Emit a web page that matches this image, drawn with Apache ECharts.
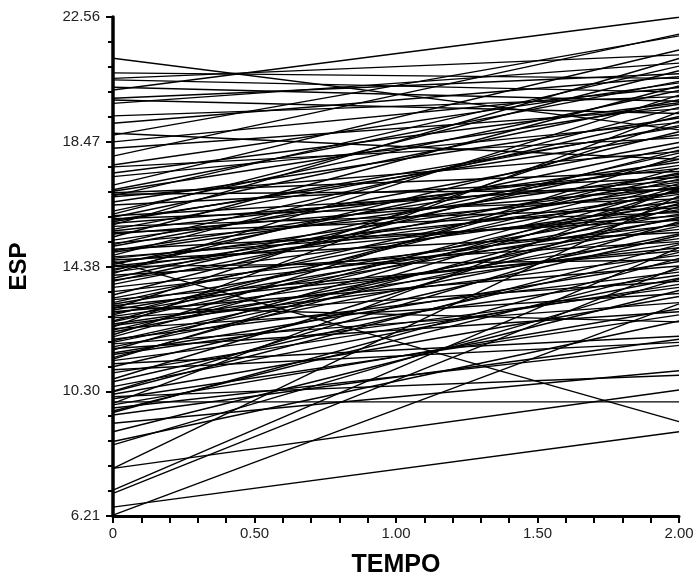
<!DOCTYPE html>
<html>
<head>
<meta charset="utf-8">
<script src="https://cdn.jsdelivr.net/npm/echarts@6/dist/echarts.min.js"></script>
<style>html,body{margin:0;padding:0;background:#fff}#c{width:694px;height:573px}</style>
</head>
<body>
<div id="c"></div>
<script>
// ESP at TEMPO = 0 and at TEMPO = 2.00, one entry per subject (paired by index)
const tempo = [0, 2];
const esp0 = [
21.21,20.73,20.55,20.50,20.26,20.17,19.90,19.84,19.73,19.32,19.08,18.75,18.69,18.47,18.26,18.00,17.71,17.65,17.33,17.05,
16.85,16.80,16.75,16.70,16.67,16.50,16.40,16.20,
16.05,16.00,15.95,15.85,15.80,15.70,15.60,15.55,15.45,15.35,15.25,15.15,15.05,14.95,14.85,14.75,14.65,14.60,14.56,14.50,
14.45,14.40,14.38,14.30,14.20,14.10,14.00,13.94,
13.56,13.35,13.30,13.20,13.10,13.06,12.96,12.90,12.80,12.75,12.70,12.57,12.45,12.35,12.24,12.08,12.00,11.95,11.85,11.75,
11.70,11.55,11.40,11.30,11.20,11.00,10.61,10.28,10.20,10.12,9.95,9.85,9.75,9.65,9.52,9.25,8.97,8.65,8.54,7.77,7.77,7.06,
6.95,6.50,6.24,
15.90,15.50,15.10,14.90,14.70,14.25,13.80,13.70,13.45,13.15,12.85,12.60,12.50,12.30,12.15,11.90,11.65,11.50,11.35,11.10,
10.90,10.70,10.45,10.30,10.05,9.90,9.60,13.00,14.15,15.75,12.40,16.10,16.90,17.45,13.90
];
const esp2 = [
18.86,20.55,21.32,20.10,19.80,22.55,20.70,19.40,21.05,19.95,20.60,17.90,21.94,20.25,19.55,22.00,20.40,18.60,19.10,21.48,
19.70,17.50,16.90,20.95,18.15,19.25,17.30,20.15,
17.05,19.85,16.60,18.95,17.20,16.30,19.00,17.60,16.95,20.30,17.80,16.80,18.45,15.90,17.40,19.60,16.50,15.50,9.30,17.15,
18.30,16.20,14.60,17.00,16.75,15.20,18.10,16.40,
15.60,16.85,14.90,17.35,15.00,12.57,16.10,14.40,17.25,15.30,13.90,16.65,14.75,13.50,15.80,17.10,14.20,16.00,13.20,15.45,
12.90,14.55,16.45,13.70,12.10,11.90,14.85,15.10,13.40,10.82,9.95,13.00,11.80,14.30,12.00,10.97,13.60,12.60,13.97,10.34,16.70,15.00,
14.37,8.97,13.16,
18.70,16.15,19.30,17.70,16.05,18.80,17.45,15.75,18.20,16.25,15.95,17.60,15.15,16.55,18.00,15.70,17.00,14.10,16.90,15.40,
13.80,16.35,14.00,15.85,12.80,16.95,14.65,19.15,20.00,21.20,19.45,20.80,20.45,19.75,17.90
];
const xTickLabels = ['0', '0.50', '1.00', '1.50', '2.00'];
const yTickLabels = ['6.21', '10.30', '14.38', '18.47', '22.56'];

const yMin = 6.21, yMax = 22.56;
const FONT = 'Liberation Sans, Arial, sans-serif';
const series = esp0.map((a, i) => ({
  type: 'line',
  data: [[tempo[0], a], [tempo[1], esp2[i]]],
  symbol: 'none',
  silent: true,
  lineStyle: { color: '#000', width: 1.4 },
  animation: false
}));

const chart = echarts.init(document.getElementById('c'), null, { renderer: 'canvas' });
chart.setOption({
  animation: false,
  backgroundColor: '#fff',
  grid: { left: 113, right: 15, top: 17, bottom: 57, containLabel: false, outerBoundsMode: 'none' },
  xAxis: {
    type: 'value', min: 0, max: 2, interval: 0.5,
    name: 'TEMPO', nameLocation: 'middle', nameGap: 37,
    nameTextStyle: { fontFamily: FONT, fontWeight: 'bold', fontSize: 25, color: '#000' },
    axisLine: { onZero: false, lineStyle: { color: '#000', width: 3 } },
    axisTick: { show: true, inside: false, length: 7, lineStyle: { color: '#000', width: 2 } },
    minorTick: { show: true, splitNumber: 5, length: 7, lineStyle: { color: '#000', width: 2 } },
    axisLabel: {
      margin: 10, color: '#222', fontSize: 15, fontFamily: FONT,
      formatter: (v, i) => xTickLabels[i]
    },
    splitLine: { show: false }, minorSplitLine: { show: false }
  },
  yAxis: {
    type: 'value', min: yMin, max: yMax, interval: (yMax - yMin) / 4,
    name: 'ESP', nameLocation: 'middle', nameGap: 82, nameRotate: 90,
    nameTextStyle: { fontFamily: FONT, fontWeight: 'bold', fontSize: 24, color: '#000' },
    axisLine: { onZero: false, lineStyle: { color: '#000', width: 3.5 } },
    axisTick: { show: true, inside: false, length: 7, lineStyle: { color: '#000', width: 2 } },
    minorTick: { show: true, splitNumber: 5, length: 5, lineStyle: { color: '#000', width: 2 } },
    axisLabel: {
      margin: 13, color: '#222', fontSize: 15, fontFamily: FONT,
      formatter: (v, i) => yTickLabels[i]
    },
    splitLine: { show: false }, minorSplitLine: { show: false }
  },
  series: series
});
</script>
</body>
</html>
